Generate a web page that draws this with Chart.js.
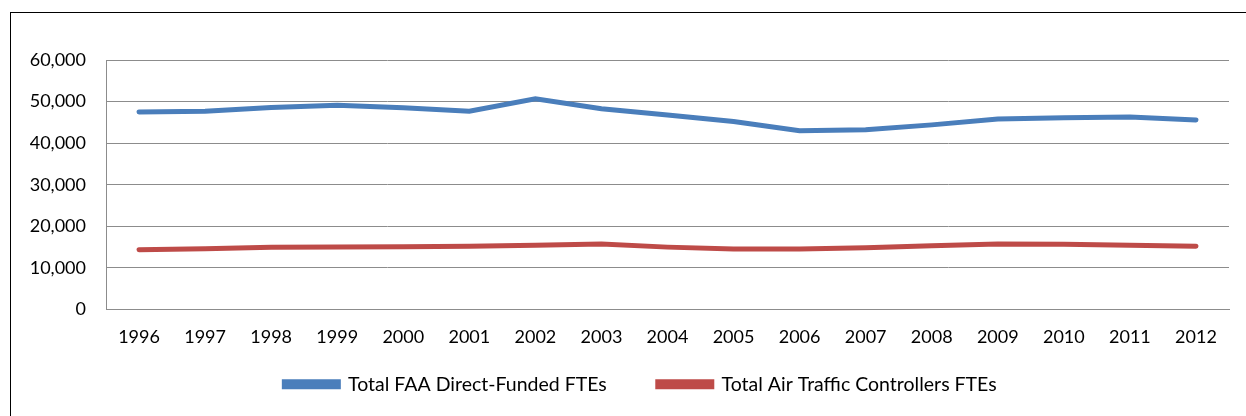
<!DOCTYPE html>
<html>
<head>
<meta charset="utf-8">
<script src="https://cdn.jsdelivr.net/npm/chart.js@4"></script>
<style>
    html, body { margin: 0; padding: 0; background: #fff; }
    #wrap { position: relative; width: 1246px; height: 416px; overflow: hidden; }
    #frame { position: absolute; left: 10px; top: 12px; width: 1300px; height: 500px; border: 1px solid #000; box-sizing: border-box; }
    #c { position: absolute; left: 0; top: 0; }
</style>
</head>
<body>
<div id="wrap">
    <div id="frame"></div>
    <canvas id="c" width="1246" height="416"></canvas>
</div>
<script>
// 数据
const years = ['1996', '1997', '1998', '1999', '2000', '2001', '2002', '2003', '2004',
    '2005', '2006', '2007', '2008', '2009', '2010', '2011', '2012'];
const faaDirectFunded = [47500, 47700, 48600, 49100, 48500, 47700, 50700, 48300, 46800,
    45200, 43000, 43200, 44400, 45800, 46100, 46300, 45600];
const airTrafficControllers = [14350, 14600, 14950, 15050, 15100, 15200, 15450, 15750, 15000,
    14550, 14550, 14850, 15350, 15750, 15700, 15450, 15200];
const yTicks = [0, 10000, 20000, 30000, 40000, 50000, 60000];

const FONT = 'Lato, "Open Sans", sans-serif';
const gridColor = '#8c8c8c';

// 图例位置微调: 上移到坐标轴标签下方, 并略微右移
const legendShift = {
    id: 'legendShift',
    afterLayout(chart) {
        const lg = chart.legend;
        if (!lg) return;
        const dy = -40, dx = 26;
        lg.top += dy;
        lg.bottom += dy;
        lg.left += dx;
        lg.right += dx;
    }
};

const ctx = document.getElementById('c').getContext('2d');
new Chart(ctx, {
    type: 'line',
    data: {
        labels: years,
        datasets: [
            {
                label: 'Total FAA Direct-Funded FTEs',
                data: faaDirectFunded,
                borderColor: '#4a7ebb',
                backgroundColor: '#4a7ebb',
                borderWidth: 5,
                pointRadius: 0,
                tension: 0,
                borderCapStyle: 'round'
            },
            {
                label: 'Total Air Traffic Controllers FTEs',
                data: airTrafficControllers,
                borderColor: '#be4b48',
                backgroundColor: '#be4b48',
                borderWidth: 5,
                pointRadius: 0,
                tension: 0,
                borderCapStyle: 'round'
            }
        ]
    },
    plugins: [legendShift],
    options: {
        responsive: false,
        animation: false,
        layout: {
            padding: { left: 0, right: 17, top: 60, bottom: -28 }
        },
        plugins: {
            legend: {
                position: 'bottom',
                labels: {
                    font: { family: FONT, size: 19.5 },
                    color: '#000',
                    boxWidth: 54,
                    boxHeight: 5,
                    padding: 51
                }
            },
            tooltip: { enabled: false }
        },
        scales: {
            x: {
                offset: true,
                grid: { display: false, drawTicks: false },
                border: { color: gridColor, width: 1 },
                ticks: {
                    font: { family: FONT, size: 18 },
                    color: '#000',
                    padding: 17,
                    maxRotation: 0,
                    autoSkip: false
                },
                afterFit: s => { s.height = 54; }
            },
            y: {
                min: 0,
                max: 60000,
                afterBuildTicks: s => { s.ticks = yTicks.map(v => ({ value: v })); },
                grid: { color: gridColor, drawTicks: false },
                border: { color: gridColor, width: 1 },
                ticks: {
                    font: { family: FONT, size: 18 },
                    color: '#000',
                    padding: 20,
                    callback: v => v.toLocaleString('en-US')
                },
                afterFit: s => { s.width = 106; }
            }
        }
    }
});
</script>
</body>
</html>
